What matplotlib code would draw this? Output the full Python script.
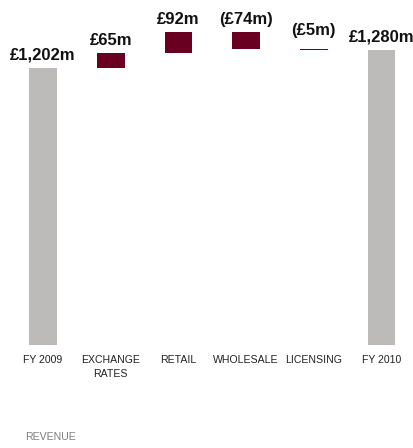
import matplotlib
matplotlib.use("Agg")
import matplotlib.pyplot as plt

# Revenue bridge FY2009 -> FY2010 (GBP m)
categories = ["FY 2009", "EXCHANGE\nRATES", "RETAIL", "WHOLESALE", "LICENSING", "FY 2010"]
changes = [1202, 65, 92, -74, -5, 1280]
labels = ["£1,202m", "£65m", "£92m", "(£74m)", "(£5m)", "£1,280m"]

grey = "#BCBBB9"
maroon = "#6A0021"

fig = plt.figure(figsize=(4.14, 4.48), dpi=100)
ax = fig.add_axes([0, 103 / 448, 1, 345 / 448])

x = list(range(len(categories)))
running = 0
for i, v in enumerate(changes):
    if i == 0 or i == len(changes) - 1:
        bottom, height, col = 0, v, grey
        running = v
    else:
        bottom = running if v > 0 else running + v
        height = abs(v)
        col = maroon
        running += v
    ax.bar(i, height, bottom=bottom, width=0.41, color=col, linewidth=0)
    top = bottom + height
    off = 11 if categories[i] == "LICENSING" else 5
    ax.annotate(labels[i], (i, top), xytext=(0, off * 0.72), textcoords="offset points",
                ha="center", va="bottom", fontsize=12, fontweight="bold",
                family="Liberation Sans", color="#111111")

ax.set_xlim(-43 / 67.7, (414 - 43) / 67.7)
ax.set_ylim(0, 345 / 0.2305)
ax.set_xticks(x)
ax.set_xticklabels(categories, fontsize=7.6, family="Liberation Sans", color="#222222",
                   linespacing=1.55)
ax.tick_params(axis="x", length=0, pad=7)
ax.set_yticks([])
for s in ax.spines.values():
    s.set_visible(False)

fig.text(25 / 414, 1 - 437 / 448, "REVENUE", fontsize=7.6, family="Liberation Sans",
         color="#7F7F7F", va="center", ha="left")

fig.savefig("out.png", dpi=100)
